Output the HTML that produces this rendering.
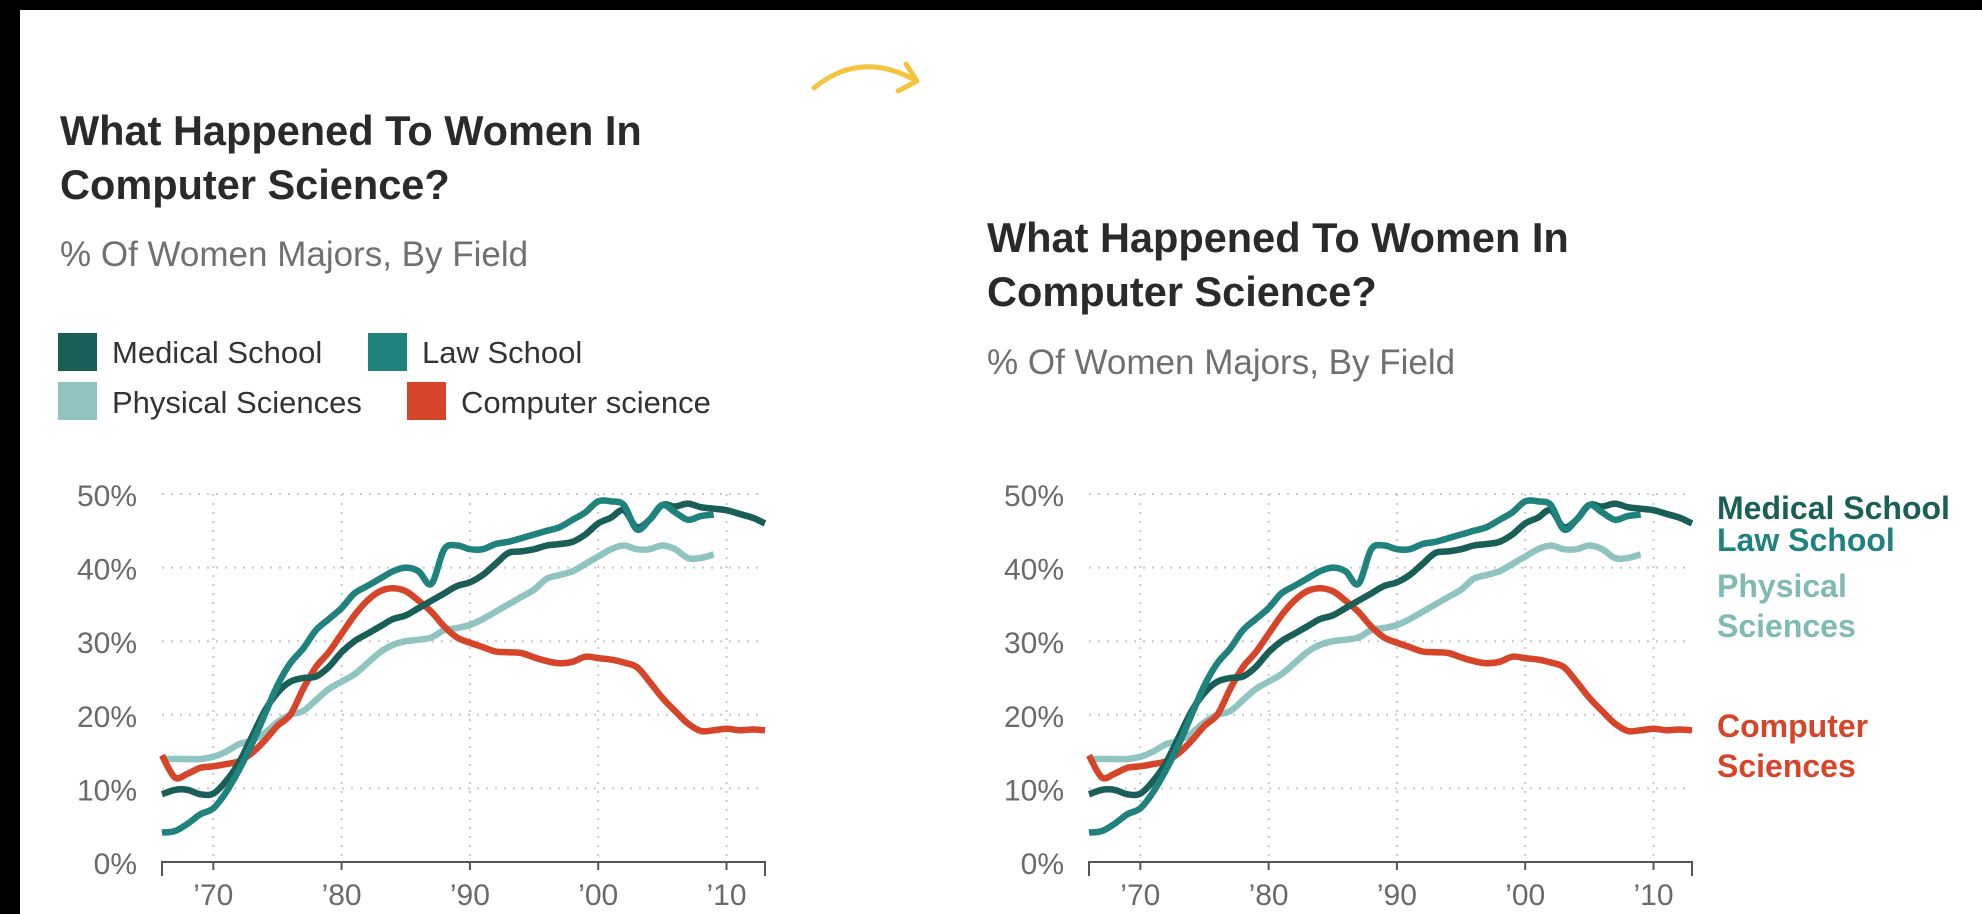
<!DOCTYPE html>
<html><head><meta charset="utf-8"><style>
html,body{margin:0;padding:0;background:#fff;}
body{width:1982px;height:914px;position:relative;overflow:hidden;font-family:"Liberation Sans",Arial,sans-serif;}
.t{position:absolute;white-space:nowrap;}
</style></head><body>
<div style="position:absolute;left:0;top:0;width:1982px;height:10px;background:#000"></div>
<div style="position:absolute;left:0;top:0;width:20px;height:914px;background:#000"></div>
<svg style="position:absolute;left:0;top:0" width="1982" height="914">
<path d="M814 88 Q860 50 915 80" fill="none" stroke="#f3c53e" stroke-width="5" stroke-linecap="round"/>
<path d="M898 91 L917 81 L906 64" fill="none" stroke="#f3c53e" stroke-width="5" stroke-linecap="round" stroke-linejoin="round"/>
</svg>
<div class="t" style="left:60px;top:104px;font-size:41.5px;font-weight:bold;color:#2a2a2a;line-height:54px">What Happened To Women In<br>Computer Science?</div>
<div class="t" style="left:60px;top:235px;font-size:35px;color:#707070">% Of Women Majors, By Field</div>
<div>
<div style="position:absolute;left:58px;top:333px;width:39px;height:38px;background:#1a5e58"></div>
<div class="t" style="left:112px;top:335px;font-size:31px;color:#333">Medical School</div>
<div style="position:absolute;left:368px;top:333px;width:39px;height:38px;background:#1f827c"></div>
<div class="t" style="left:422px;top:335px;font-size:31px;color:#333">Law School</div>
<div style="position:absolute;left:58px;top:382px;width:39px;height:38px;background:#8fc4c0"></div>
<div class="t" style="left:112px;top:385px;font-size:31px;color:#333">Physical Sciences</div>
<div style="position:absolute;left:407px;top:382px;width:39px;height:38px;background:#d6452a"></div>
<div class="t" style="left:461px;top:385px;font-size:31px;color:#333">Computer science</div>
</div>
<div class="t" style="left:987px;top:211px;font-size:41.5px;font-weight:bold;color:#2a2a2a;line-height:54px">What Happened To Women In<br>Computer Science?</div>
<div class="t" style="left:987px;top:343px;font-size:35px;color:#707070">% Of Women Majors, By Field</div>
<div style="font-weight:bold;font-size:32px">
<div class="t" style="left:1717px;top:490px;color:#1a5e58">Medical School</div>
<div class="t" style="left:1717px;top:522px;color:#1f827c">Law School</div>
<div class="t" style="left:1717px;top:566px;color:#7fbab5;line-height:40px">Physical<br>Sciences</div>
<div class="t" style="left:1717px;top:706px;color:#d6452a;line-height:40px">Computer<br>Sciences</div>
</div>
<svg id="charts" style="position:absolute;left:0;top:0" width="1982" height="914"></svg>
<script>
const startYear = 1966;
const endYear = 2013;
const yTicks = [0, 10, 20, 30, 40, 50];
const yTickLabels = ["0%", "10%", "20%", "30%", "40%", "50%"];
const xTicks = [1970, 1980, 1990, 2000, 2010];
const xTickLabels = ["\u201970", "\u201980", "\u201990", "\u201900", "\u201910"];
const medical = [9.2,9.8,9.8,9.2,9.3,11,13.5,17,20.5,23,24.5,25,25.2,26.5,28.5,30,31,32,33,33.5,34.5,35.5,36.5,37.5,38,39,40.5,42,42.2,42.5,43,43.2,43.5,44.5,46,46.8,47.8,45.5,46.5,48.5,48.3,48.7,48.2,48,47.8,47.3,46.8,46];
const law = [4,4.2,5.2,6.5,7.3,9.5,12.5,16,20,24,27,29,31.5,33,34.5,36.5,37.5,38.5,39.5,40,39.5,37.8,42.5,43,42.5,42.5,43.2,43.5,44,44.5,45,45.5,46.5,47.5,49,49,48.5,45.2,46.5,48.5,47.5,46.5,47,47.2];
const physical = [14,14,14,14,14.3,15,16,16.5,17.5,19,20,20.5,22,23.5,24.5,25.5,27,28.5,29.5,30,30.2,30.5,31.5,31.8,32.2,33,34,35,36,37,38.5,39,39.5,40.5,41.5,42.5,43,42.5,42.5,43,42.5,41.3,41.3,41.8];
const compsci = [14.5,11.5,12,12.8,13,13.3,13.7,14.8,16.5,18.5,20,23.5,26.5,28.5,31,33.5,35.5,36.8,37.2,36.8,35.5,34,32,30.5,29.8,29.2,28.6,28.5,28.4,27.8,27.3,27,27.2,27.9,27.7,27.5,27.1,26.5,24.5,22.3,20.5,18.8,17.8,17.9,18.1,17.9,18,17.9];

const NS = "http://www.w3.org/2000/svg";
const svg = document.getElementById('charts');
function mk(tag, attrs){const e=document.createElementNS(NS,tag);for(const k in attrs)e.setAttribute(k,attrs[k]);return e;}
function smooth(pts){
  let d="M"+pts[0][0].toFixed(1)+" "+pts[0][1].toFixed(1);
  for(let i=0;i<pts.length-1;i++){
    const p0=pts[i-1]||pts[i],p1=pts[i],p2=pts[i+1],p3=pts[i+2]||p2;
    const c1=[p1[0]+(p2[0]-p0[0])/6,p1[1]+(p2[1]-p0[1])/6];
    const c2=[p2[0]-(p3[0]-p1[0])/6,p2[1]-(p3[1]-p1[1])/6];
    d+=" C"+c1[0].toFixed(1)+" "+c1[1].toFixed(1)+" "+c2[0].toFixed(1)+" "+c2[1].toFixed(1)+" "+p2[0].toFixed(1)+" "+p2[1].toFixed(1);
  }
  return d;
}
function drawChart(x0, prefix){
  const x1 = x0 + 603, yTop = 494, yBot = 862;
  const xs = y => x0 + (y - startYear) / (endYear - startYear) * (x1 - x0);
  const ys = v => yBot - v / 50 * (yBot - yTop);
  const g = mk('g', {});
  
  
  svg.appendChild(g);
  yTicks.forEach((v,i)=>{
    if(v>0){
      const l=mk('line',{x1:x0,x2:x1-2,y1:ys(v),y2:ys(v),stroke:'#c8c8c8','stroke-width':2,'stroke-dasharray':'2 7'});
      
      
      g.appendChild(l);
    }
    const t=mk('text',{x:x0-25,y:ys(v)+12,'text-anchor':'end','font-size':30,fill:'#6a6a6a','font-family':'Liberation Sans, Arial, sans-serif'});
    t.textContent=yTickLabels[i];
    
    
    g.appendChild(t);
  });
  xTicks.forEach((yr,i)=>{
    const l=mk('line',{x1:xs(yr),x2:xs(yr),y1:yTop,y2:yBot,stroke:'#c8c8c8','stroke-width':2,'stroke-dasharray':'2 7'});
    
    
    g.appendChild(l);
    const tk=mk('line',{x1:xs(yr),x2:xs(yr),y1:yBot,y2:yBot+8,stroke:'#555','stroke-width':2});
    
    
    g.appendChild(tk);
    const t=mk('text',{x:xs(yr),y:yBot+43,'text-anchor':'middle','font-size':30,fill:'#6a6a6a','font-family':'Liberation Sans, Arial, sans-serif'});
    t.textContent=xTickLabels[i];
    
    
    g.appendChild(t);
  });
  const ax=mk('path',{d:`M${x0} ${yBot+14} V${yBot} H${x1} V${yBot+14}`,fill:'none',stroke:'#555','stroke-width':2});
  
  
  g.appendChild(ax);
  const series=[[physical,'#8fc4c0','physical'],[compsci,'#d6452a','compsci'],[medical,'#1a5e58','medical'],[law,'#1f827c','law']];
  series.forEach(([arr,col,nm])=>{
    const pts=arr.map((v,i)=>[xs(startYear+i),ys(v)]);
    const p=mk('path',{d:smooth(pts),fill:'none',stroke:col,'stroke-width':6.5,'stroke-linejoin':'round','stroke-linecap':'butt'});
    
    
    g.appendChild(p);
  });
}
drawChart(162,'left');
drawChart(1089,'right');
</script>
</body></html>
